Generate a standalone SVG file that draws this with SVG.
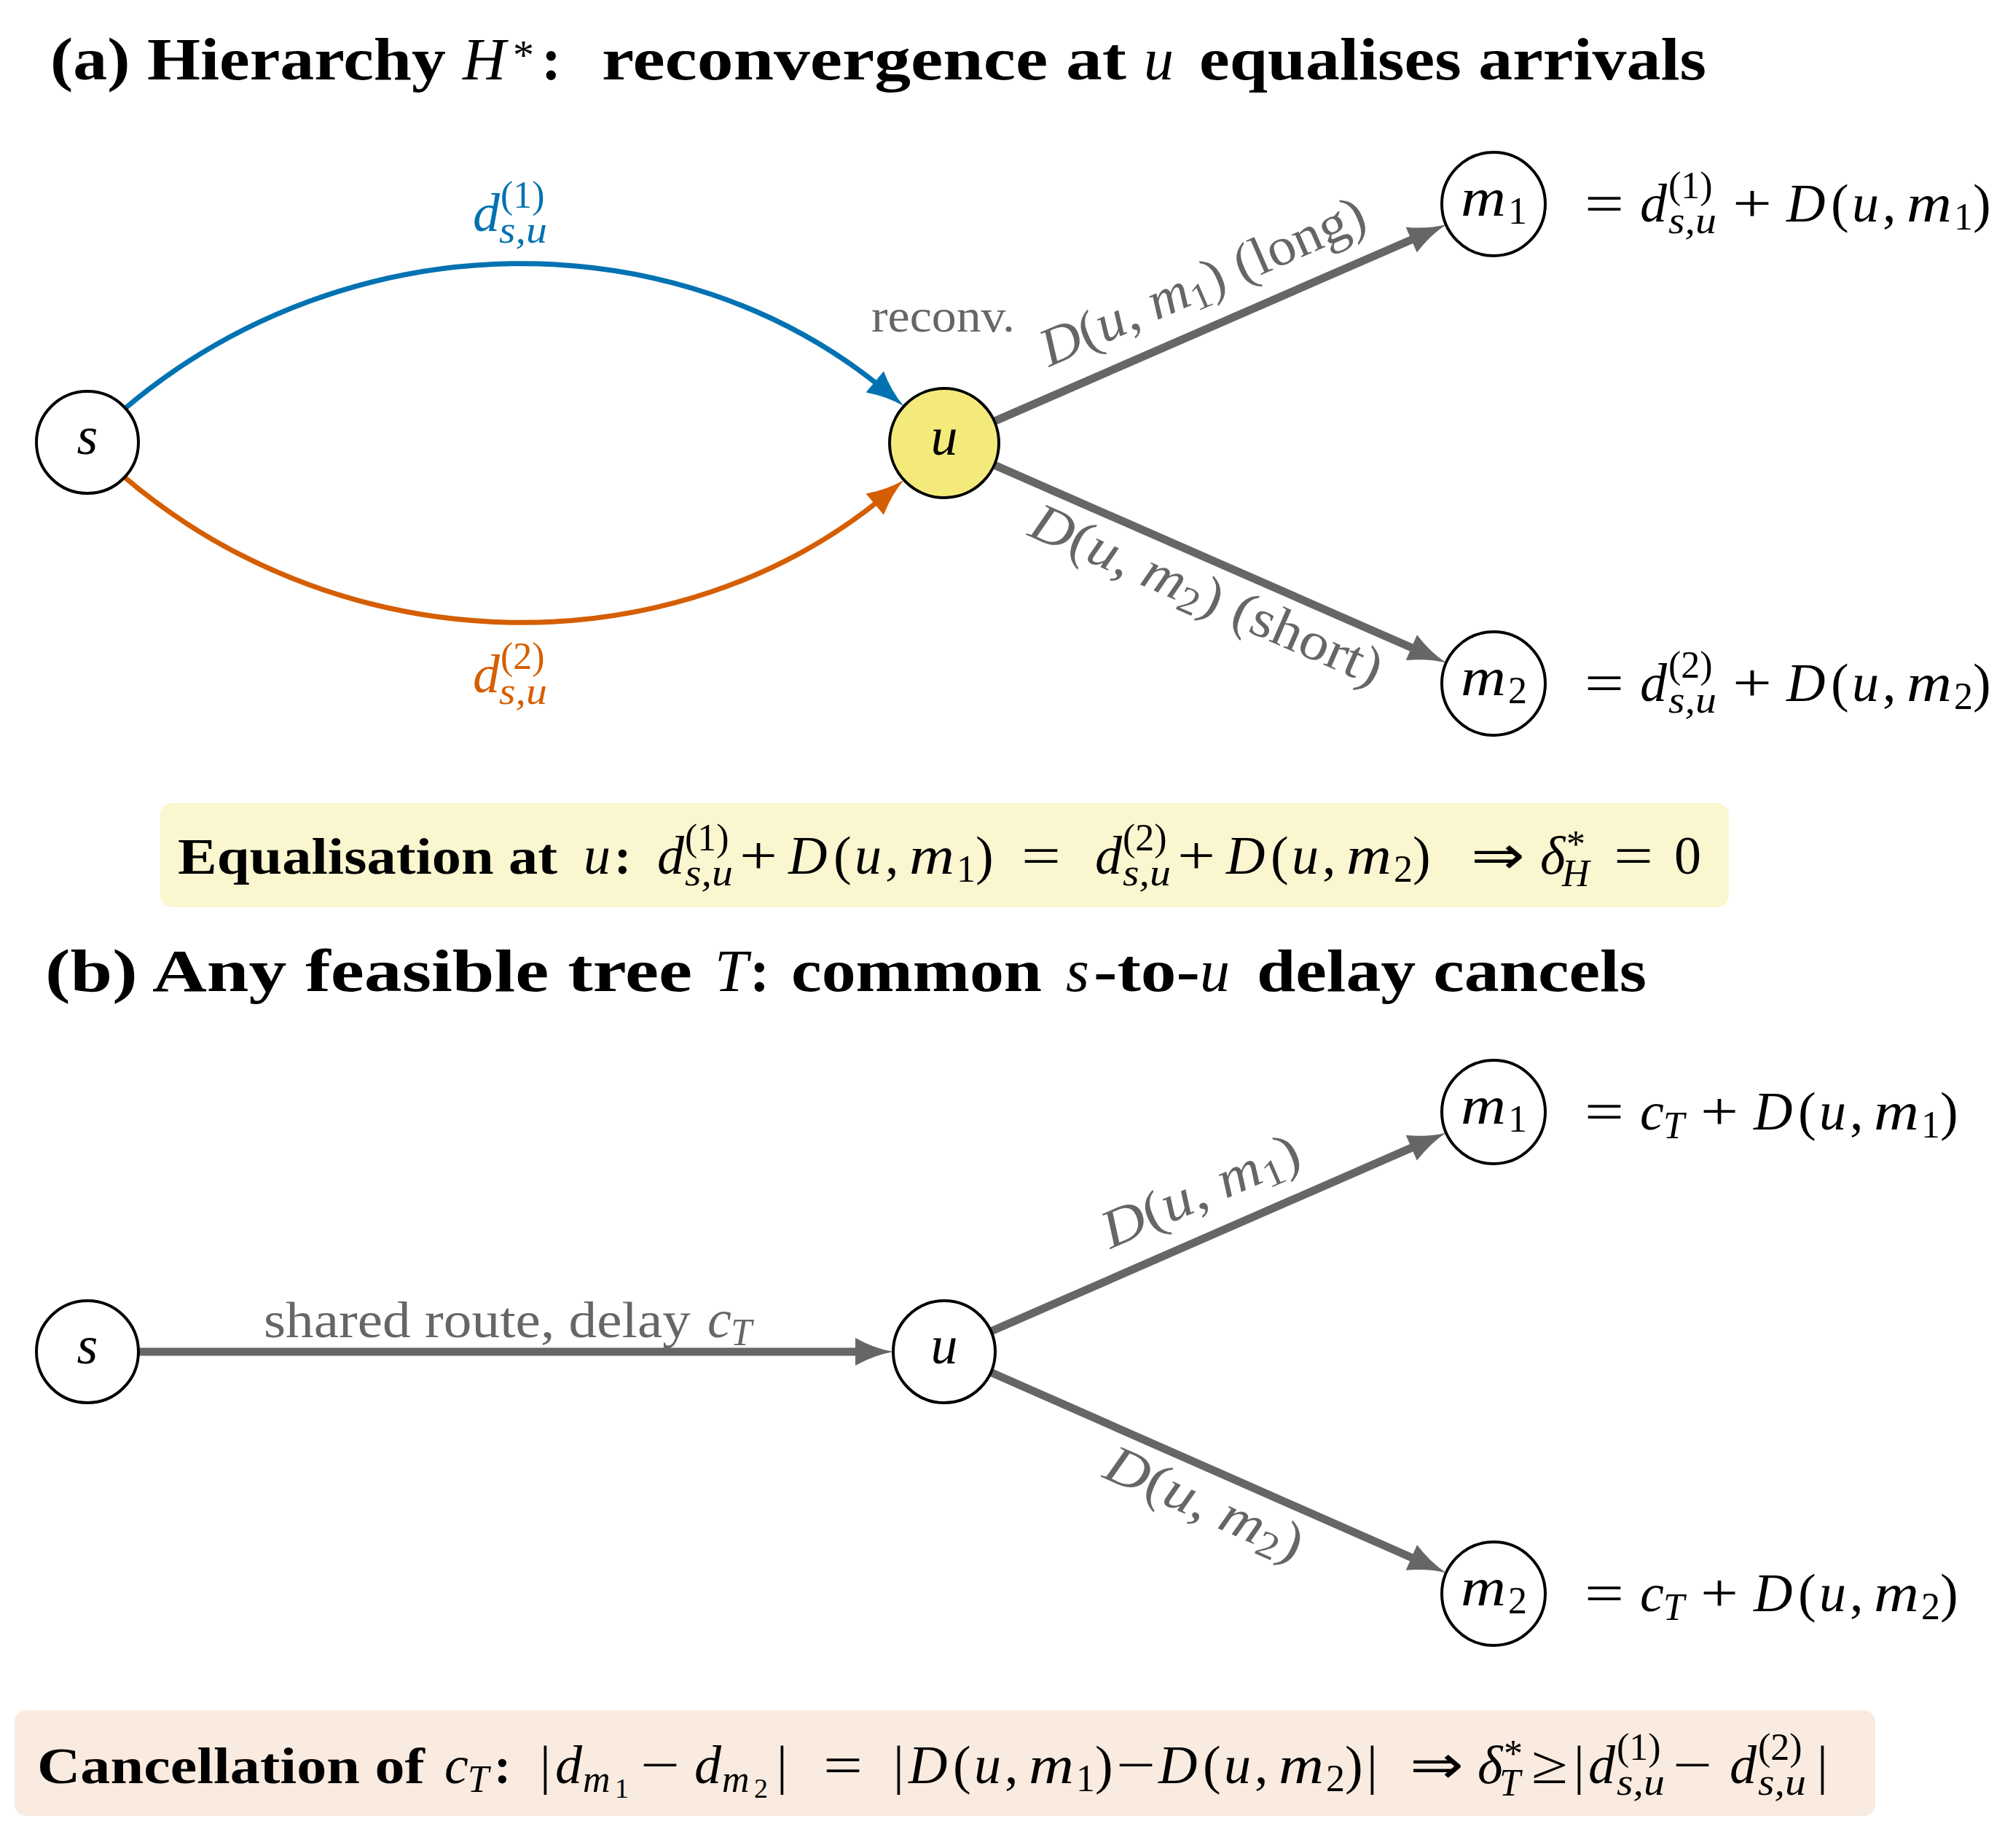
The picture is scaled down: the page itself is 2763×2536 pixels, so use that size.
<svg xmlns="http://www.w3.org/2000/svg" width="2763" height="2536" viewBox="0 0 2763 2536">
<style>
text{font-family:"Liberation Serif","Times New Roman",serif;fill:#000}
.t{font-size:74px}
.h{font-size:82px;font-weight:bold}
.bx{font-size:70px;font-weight:bold}
.i{font-style:italic;font-weight:normal}
.n{font-weight:normal}
.b{font-weight:bold}
.s{font-size:52px}
.ss{font-size:38px}
.g{fill:#666}
.blue{fill:#0072B2}
.orange{fill:#D55E00}
.node{stroke:#000;stroke-width:4;fill:#fff}
.edge{fill:none;stroke:#666;stroke-width:11}
</style>
<defs>
<marker id="ag" markerUnits="userSpaceOnUse" markerWidth="60" markerHeight="40" refX="22" refY="19" orient="auto" overflow="visible">
<path d="M0,0 Q26,14.5 52,19 Q26,23.5 0,38 Z" fill="#666"/>
</marker>
<marker id="ab" markerUnits="userSpaceOnUse" markerWidth="60" markerHeight="40" refX="22" refY="19" orient="auto" overflow="visible">
<path d="M0,0 Q26,14.5 52,19 Q26,23.5 0,38 Z" fill="#0072B2"/>
</marker>
<marker id="ao" markerUnits="userSpaceOnUse" markerWidth="60" markerHeight="40" refX="22" refY="19" orient="auto" overflow="visible">
<path d="M0,0 Q26,14.5 52,19 Q26,23.5 0,38 Z" fill="#D55E00"/>
</marker>
</defs>
<rect width="2763" height="2536" fill="#fff"/>

<!-- Titles -->
<g id="title-a">
<text class="h" y="109"><tspan x="69" textLength="543" lengthAdjust="spacingAndGlyphs">(a) Hierarchy</tspan><tspan class="i" x="635">H</tspan><tspan class="n" x="704" y="95" font-size="58">*</tspan><tspan x="743" y="109">:</tspan><tspan x="826" textLength="720" lengthAdjust="spacingAndGlyphs">reconvergence at</tspan><tspan class="i" x="1570">u</tspan><tspan x="1646" textLength="696" lengthAdjust="spacingAndGlyphs">equalises arrivals</tspan></text>
</g>
<g id="title-b">
<text class="h" y="1360"><tspan x="62" textLength="888" lengthAdjust="spacingAndGlyphs">(b) Any feasible tree</tspan><tspan class="i" x="981">T</tspan><tspan x="1029">:</tspan><tspan x="1086" textLength="344" lengthAdjust="spacingAndGlyphs">common</tspan><tspan class="i" x="1463">s</tspan><tspan x="1501" textLength="146" lengthAdjust="spacingAndGlyphs">-to-</tspan><tspan class="i" x="1647">u</tspan><tspan x="1725" textLength="535" lengthAdjust="spacingAndGlyphs">delay cancels</tspan></text>
</g>

<!-- Connectors -->
<g id="connectors">
<path class="edge" d="M171.2,560.8 C479.2,299.9 931.4,298.7 1217.6,538.1" style="stroke:#0072B2;stroke-width:7" marker-end="url(#ab)"/>
<path class="edge" d="M171.2,655.2 C479.2,916.1 931.4,917.3 1217.6,677.9" style="stroke:#D55E00;stroke-width:7" marker-end="url(#ao)"/>
<line class="edge" x1="1364.8" y1="578.1" x2="1957.4" y2="320.3" marker-end="url(#ag)"/>
<line class="edge" x1="1364.7" y1="638.1" x2="1957.5" y2="897.5" marker-end="url(#ag)"/>
<line class="edge" x1="190" y1="1855" x2="1196" y2="1855" marker-end="url(#ag)"/>
<line class="edge" x1="1360.2" y1="1827" x2="1957.4" y2="1566.4" marker-end="url(#ag)"/>
<line class="edge" x1="1360" y1="1883.2" x2="1957.5" y2="2146.3" marker-end="url(#ag)"/>
</g>

<!-- Edge labels -->
<g id="edge-labels">
<text class="t blue"><tspan class="i" x="649" y="317">d</tspan><tspan class="s" x="687" y="285">(1)</tspan><tspan class="s i" x="685" y="333" textLength="66" lengthAdjust="spacingAndGlyphs">s,u</tspan></text>
<text class="t orange"><tspan class="i" x="649" y="950">d</tspan><tspan class="s" x="687" y="918">(2)</tspan><tspan class="s i" x="685" y="966" textLength="66" lengthAdjust="spacingAndGlyphs">s,u</tspan></text>
<text class="g" x="1196" y="455" font-size="63" textLength="197" lengthAdjust="spacingAndGlyphs">reconv.</text>
<text class="t g" transform="translate(1660,408) rotate(-23.5)" text-anchor="middle" textLength="480" lengthAdjust="spacingAndGlyphs"><tspan class="i">D</tspan>(<tspan class="i">u</tspan>, <tspan class="i">m</tspan><tspan class="s" dy="11">1</tspan><tspan dy="-11">) (long)</tspan></text>
<text class="t g" transform="translate(1647,838) rotate(23.6)" text-anchor="middle" textLength="520" lengthAdjust="spacingAndGlyphs"><tspan class="i">D</tspan>(<tspan class="i">u</tspan>, <tspan class="i">m</tspan><tspan class="s" dy="11">2</tspan><tspan dy="-11">) (short)</tspan></text>
<text class="g" y="1835" font-size="70"><tspan x="362" textLength="586" lengthAdjust="spacingAndGlyphs">shared route, delay</tspan><tspan class="i" x="971" font-size="74">c</tspan><tspan class="i" x="1003" y="1846" font-size="52">T</tspan></text>
<text class="t g" transform="translate(1657,1656) rotate(-23.6)" text-anchor="middle" textLength="290" lengthAdjust="spacingAndGlyphs"><tspan class="i">D</tspan>(<tspan class="i">u</tspan>, <tspan class="i">m</tspan><tspan class="s" dy="11">1</tspan><tspan dy="-11">)</tspan></text>
<text class="t g" transform="translate(1644,2085) rotate(23.8)" text-anchor="middle" textLength="290" lengthAdjust="spacingAndGlyphs"><tspan class="i">D</tspan>(<tspan class="i">u</tspan>, <tspan class="i">m</tspan><tspan class="s" dy="11">2</tspan><tspan dy="-11">)</tspan></text>
</g>

<!-- Nodes (a) -->
<g id="node-s-a"><circle class="node" cx="120" cy="607" r="70"/><text class="t i" x="120" y="623" text-anchor="middle">s</text></g>
<g id="node-u-a"><circle class="node" cx="1296" cy="608" r="75" style="fill:#F4EA7C"/><text class="t i" x="1296" y="624" text-anchor="middle">u</text></g>
<g id="node-m1-a"><circle class="node" cx="2050" cy="280" r="71"/><text class="t"><tspan class="i" x="2005" y="296" textLength="62" lengthAdjust="spacingAndGlyphs">m</tspan><tspan class="s" x="2070" y="307">1</tspan></text></g>
<g id="node-m2-a"><circle class="node" cx="2050" cy="938" r="71"/><text class="t"><tspan class="i" x="2005" y="954" textLength="62" lengthAdjust="spacingAndGlyphs">m</tspan><tspan class="s" x="2070" y="965">2</tspan></text></g>

<!-- Nodes (b) -->
<g id="node-s-b"><circle class="node" cx="120" cy="1855" r="70"/><text class="t i" x="120" y="1871" text-anchor="middle">s</text></g>
<g id="node-u-b"><circle class="node" cx="1296" cy="1855" r="70"/><text class="t i" x="1296" y="1871" text-anchor="middle">u</text></g>
<g id="node-m1-b"><circle class="node" cx="2050" cy="1526" r="71"/><text class="t"><tspan class="i" x="2005" y="1542" textLength="62" lengthAdjust="spacingAndGlyphs">m</tspan><tspan class="s" x="2070" y="1553">1</tspan></text></g>
<g id="node-m2-b"><circle class="node" cx="2050" cy="2187" r="71"/><text class="t"><tspan class="i" x="2005" y="2203" textLength="62" lengthAdjust="spacingAndGlyphs">m</tspan><tspan class="s" x="2070" y="2214">2</tspan></text></g>

<!-- Arrival labels -->
<g id="arrival-labels">
<text class="t"><tspan x="2175" y="304" textLength="54" lengthAdjust="spacingAndGlyphs">=</tspan><tspan class="i" x="2251">d</tspan><tspan class="s" x="2290" y="272">(1)</tspan><tspan class="s i" x="2290" y="320" textLength="66" lengthAdjust="spacingAndGlyphs">s,u</tspan><tspan x="2378" y="304" textLength="54" lengthAdjust="spacingAndGlyphs">+</tspan><tspan class="i" x="2452">D</tspan><tspan x="2513">(</tspan><tspan class="i" x="2542">u</tspan><tspan x="2584">,</tspan><tspan class="i" x="2617" textLength="62" lengthAdjust="spacingAndGlyphs">m</tspan><tspan class="s" x="2682" y="315">1</tspan><tspan x="2708" y="304">)</tspan></text>
<text class="t"><tspan x="2175" y="962" textLength="54" lengthAdjust="spacingAndGlyphs">=</tspan><tspan class="i" x="2251">d</tspan><tspan class="s" x="2290" y="930">(2)</tspan><tspan class="s i" x="2290" y="978" textLength="66" lengthAdjust="spacingAndGlyphs">s,u</tspan><tspan x="2378" y="962" textLength="54" lengthAdjust="spacingAndGlyphs">+</tspan><tspan class="i" x="2452">D</tspan><tspan x="2513">(</tspan><tspan class="i" x="2542">u</tspan><tspan x="2584">,</tspan><tspan class="i" x="2617" textLength="62" lengthAdjust="spacingAndGlyphs">m</tspan><tspan class="s" x="2682" y="973">2</tspan><tspan x="2708" y="962">)</tspan></text>
<text class="t"><tspan x="2175" y="1550" textLength="54" lengthAdjust="spacingAndGlyphs">=</tspan><tspan class="i" x="2251">c</tspan><tspan class="s i" x="2283" y="1562">T</tspan><tspan x="2334" y="1550" textLength="52" lengthAdjust="spacingAndGlyphs">+</tspan><tspan class="i" x="2407">D</tspan><tspan x="2468">(</tspan><tspan class="i" x="2497">u</tspan><tspan x="2539">,</tspan><tspan class="i" x="2572" textLength="62" lengthAdjust="spacingAndGlyphs">m</tspan><tspan class="s" x="2637" y="1561">1</tspan><tspan x="2663" y="1550">)</tspan></text>
<text class="t"><tspan x="2175" y="2211" textLength="54" lengthAdjust="spacingAndGlyphs">=</tspan><tspan class="i" x="2251">c</tspan><tspan class="s i" x="2283" y="2223">T</tspan><tspan x="2334" y="2211" textLength="52" lengthAdjust="spacingAndGlyphs">+</tspan><tspan class="i" x="2407">D</tspan><tspan x="2468">(</tspan><tspan class="i" x="2497">u</tspan><tspan x="2539">,</tspan><tspan class="i" x="2572" textLength="62" lengthAdjust="spacingAndGlyphs">m</tspan><tspan class="s" x="2637" y="2222">2</tspan><tspan x="2663" y="2211">)</tspan></text>
</g>

<!-- Box (a) -->
<g id="box-a">
<rect x="220" y="1102" width="2153" height="143" rx="16" fill="#FAF6D0"/>
<text class="t"><tspan class="bx" x="244" y="1199" textLength="521" lengthAdjust="spacingAndGlyphs">Equalisation at</tspan><tspan class="i" x="801">u</tspan><tspan class="bx" x="843">:</tspan><tspan class="i" x="902">d</tspan><tspan class="s" x="940" y="1167">(1)</tspan><tspan class="s i" x="940" y="1215" textLength="66" lengthAdjust="spacingAndGlyphs">s,u</tspan><tspan x="1015" y="1199" textLength="52" lengthAdjust="spacingAndGlyphs">+</tspan><tspan class="i" x="1082">D</tspan><tspan x="1144">(</tspan><tspan class="i" x="1173">u</tspan><tspan x="1215">,</tspan><tspan class="i" x="1248" textLength="62" lengthAdjust="spacingAndGlyphs">m</tspan><tspan class="s" x="1313" y="1210">1</tspan><tspan x="1339" y="1199">)</tspan><tspan x="1402" textLength="54" lengthAdjust="spacingAndGlyphs">=</tspan><tspan class="i" x="1503">d</tspan><tspan class="s" x="1541" y="1167">(2)</tspan><tspan class="s i" x="1541" y="1215" textLength="66" lengthAdjust="spacingAndGlyphs">s,u</tspan><tspan x="1616" y="1199" textLength="52" lengthAdjust="spacingAndGlyphs">+</tspan><tspan class="i" x="1683">D</tspan><tspan x="1744">(</tspan><tspan class="i" x="1773">u</tspan><tspan x="1815">,</tspan><tspan class="i" x="1848" textLength="62" lengthAdjust="spacingAndGlyphs">m</tspan><tspan class="s" x="1913" y="1210">2</tspan><tspan x="1939" y="1199">)</tspan><tspan x="2019" textLength="74" lengthAdjust="spacingAndGlyphs">⇒</tspan><tspan class="i" x="2114">δ</tspan><tspan class="s" x="2150" y="1176">*</tspan><tspan class="s i" x="2144" y="1216">H</tspan><tspan x="2215" y="1199" textLength="54" lengthAdjust="spacingAndGlyphs">=</tspan><tspan x="2298">0</tspan></text>
</g>

<!-- Box (b) -->
<g id="box-b">
<rect x="20" y="2347" width="2554" height="145" rx="16" fill="#F9EBE0"/>
<text class="t"><tspan class="bx" x="51" y="2447" textLength="532" lengthAdjust="spacingAndGlyphs">Cancellation of</tspan><tspan class="i" x="610">c</tspan><tspan class="s i" x="642" y="2459">T</tspan><tspan class="bx" x="678" y="2447">:</tspan><tspan x="741">|</tspan><tspan class="i" x="762">d</tspan><tspan class="s i" x="800" y="2459">m</tspan><tspan class="ss" x="844" y="2467">1</tspan><tspan x="879" y="2447" textLength="54" lengthAdjust="spacingAndGlyphs">−</tspan><tspan class="i" x="953">d</tspan><tspan class="s i" x="991" y="2459">m</tspan><tspan class="ss" x="1035" y="2467">2</tspan><tspan x="1066" y="2447">|</tspan><tspan x="1130" textLength="54" lengthAdjust="spacingAndGlyphs">=</tspan><tspan x="1226">|</tspan><tspan class="i" x="1247">D</tspan><tspan x="1308">(</tspan><tspan class="i" x="1337">u</tspan><tspan x="1379">,</tspan><tspan class="i" x="1412" textLength="62" lengthAdjust="spacingAndGlyphs">m</tspan><tspan class="s" x="1477" y="2458">1</tspan><tspan x="1503" y="2447">)</tspan><tspan x="1532" textLength="54" lengthAdjust="spacingAndGlyphs">−</tspan><tspan class="i" x="1590">D</tspan><tspan x="1651">(</tspan><tspan class="i" x="1680">u</tspan><tspan x="1722">,</tspan><tspan class="i" x="1755" textLength="62" lengthAdjust="spacingAndGlyphs">m</tspan><tspan class="s" x="1820" y="2458">2</tspan><tspan x="1846" y="2447">)</tspan><tspan x="1876">|</tspan><tspan x="1935" textLength="74" lengthAdjust="spacingAndGlyphs">⇒</tspan><tspan class="i" x="2028">δ</tspan><tspan class="s" x="2064" y="2424">*</tspan><tspan class="s i" x="2058" y="2464">T</tspan><tspan x="2102" y="2447" textLength="50" lengthAdjust="spacingAndGlyphs">≥</tspan><tspan x="2160">|</tspan><tspan class="i" x="2180">d</tspan><tspan class="s" x="2219" y="2415">(1)</tspan><tspan class="s i" x="2219" y="2463" textLength="66" lengthAdjust="spacingAndGlyphs">s,u</tspan><tspan x="2296" y="2447" textLength="54" lengthAdjust="spacingAndGlyphs">−</tspan><tspan class="i" x="2374">d</tspan><tspan class="s" x="2413" y="2415">(2)</tspan><tspan class="s i" x="2413" y="2463" textLength="66" lengthAdjust="spacingAndGlyphs">s,u</tspan><tspan x="2494" y="2447">|</tspan></text>
</g>
</svg>
